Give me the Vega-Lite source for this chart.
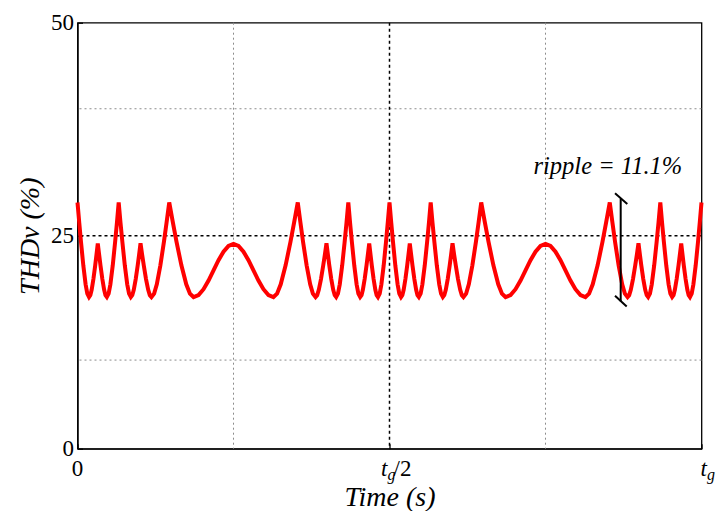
{
  "$schema": "https://vega.github.io/schema/vega-lite/v6.json",
  "width": 624,
  "height": 426,
  "autosize": "none",
  "padding": {"left": 77.5, "top": 22.7, "right": 15.5, "bottom": 62.3},
  "background": "white",
  "config": {
    "view": {"stroke": "black", "strokeWidth": 1.3},
    "font": "Liberation Serif",
    "text": {"font": "Liberation Serif", "color": "black"}
  },
  "datasets": {
    "curve": [
      {"t":0,"v":28.9},{"t":0.0028,"v":26.53},{"t":0.0056,"v":24.27},{"t":0.0093,"v":21.52},{"t":0.013,"v":19.29},{"t":0.0157,"v":18.2},{"t":0.0185,"v":17.8},
      {"t":0.0206,"v":18.02},{"t":0.0227,"v":18.65},{"t":0.0255,"v":19.91},{"t":0.0283,"v":21.47},{"t":0.0304,"v":22.76},{"t":0.0325,"v":24.1},
      {"t":0.0347,"v":22.76},{"t":0.0369,"v":21.47},{"t":0.0398,"v":19.91},{"t":0.0427,"v":18.65},{"t":0.0448,"v":18.02},{"t":0.047,"v":17.8},
      {"t":0.0499,"v":18.2},{"t":0.0527,"v":19.29},{"t":0.0565,"v":21.52},{"t":0.0603,"v":24.27},{"t":0.0632,"v":26.53},{"t":0.066,"v":28.9},
      {"t":0.0689,"v":26.53},{"t":0.0719,"v":24.27},{"t":0.0758,"v":21.52},{"t":0.0797,"v":19.29},{"t":0.0826,"v":18.2},{"t":0.0855,"v":17.8},
      {"t":0.0878,"v":18.02},{"t":0.0902,"v":18.65},{"t":0.0933,"v":19.91},{"t":0.0964,"v":21.47},{"t":0.0987,"v":22.76},{"t":0.101,"v":24.1},
      {"t":0.1036,"v":22.76},{"t":0.1063,"v":21.47},{"t":0.1098,"v":19.91},{"t":0.1133,"v":18.65},{"t":0.1159,"v":18.02},{"t":0.1185,"v":17.8},
      {"t":0.1228,"v":18.2},{"t":0.1271,"v":19.29},{"t":0.1328,"v":21.52},{"t":0.1385,"v":24.27},{"t":0.1427,"v":26.53},{"t":0.147,"v":28.9},
      {"t":0.1529,"v":26.53},{"t":0.1587,"v":24.27},{"t":0.1665,"v":21.52},{"t":0.1743,"v":19.29},{"t":0.1802,"v":18.2},{"t":0.186,"v":17.8},
      {"t":0.194,"v":18.04},{"t":0.202,"v":18.72},{"t":0.21,"v":19.73},{"t":0.218,"v":20.93},{"t":0.226,"v":22.12},{"t":0.234,"v":23.13},{"t":0.242,"v":23.81},{"t":0.25,"v":24.05},
      {"t":0.258,"v":23.81},{"t":0.266,"v":23.13},{"t":0.274,"v":22.12},{"t":0.282,"v":20.93},{"t":0.29,"v":19.73},{"t":0.298,"v":18.72},{"t":0.306,"v":18.04},{"t":0.314,"v":17.8},
      {"t":0.3198,"v":18.2},{"t":0.3257,"v":19.29},{"t":0.3335,"v":21.52},{"t":0.3413,"v":24.27},{"t":0.3471,"v":26.53},{"t":0.353,"v":28.9},
      {"t":0.3573,"v":26.53},{"t":0.3615,"v":24.27},{"t":0.3672,"v":21.52},{"t":0.3729,"v":19.29},{"t":0.3772,"v":18.2},{"t":0.3815,"v":17.8},
      {"t":0.3841,"v":18.02},{"t":0.3867,"v":18.65},{"t":0.3902,"v":19.91},{"t":0.3937,"v":21.47},{"t":0.3964,"v":22.76},{"t":0.399,"v":24.1},
      {"t":0.4013,"v":22.76},{"t":0.4036,"v":21.47},{"t":0.4067,"v":19.91},{"t":0.4098,"v":18.65},{"t":0.4122,"v":18.02},{"t":0.4145,"v":17.8},
      {"t":0.4174,"v":18.2},{"t":0.4203,"v":19.29},{"t":0.4242,"v":21.52},{"t":0.4281,"v":24.27},{"t":0.4311,"v":26.53},{"t":0.434,"v":28.9},
      {"t":0.4368,"v":26.53},{"t":0.4397,"v":24.27},{"t":0.4435,"v":21.52},{"t":0.4473,"v":19.29},{"t":0.4501,"v":18.2},{"t":0.453,"v":17.8},
      {"t":0.4552,"v":18.02},{"t":0.4573,"v":18.65},{"t":0.4602,"v":19.91},{"t":0.4631,"v":21.47},{"t":0.4653,"v":22.76},{"t":0.4675,"v":24.1},
      {"t":0.4696,"v":22.76},{"t":0.4717,"v":21.47},{"t":0.4745,"v":19.91},{"t":0.4773,"v":18.65},{"t":0.4794,"v":18.02},{"t":0.4815,"v":17.8},
      {"t":0.4843,"v":18.2},{"t":0.487,"v":19.29},{"t":0.4907,"v":21.52},{"t":0.4944,"v":24.27},{"t":0.4972,"v":26.53},{"t":0.5,"v":28.9},
      {"t":0.5028,"v":26.53},{"t":0.5056,"v":24.27},{"t":0.5093,"v":21.52},{"t":0.513,"v":19.29},{"t":0.5157,"v":18.2},{"t":0.5185,"v":17.8},
      {"t":0.5206,"v":18.02},{"t":0.5227,"v":18.65},{"t":0.5255,"v":19.91},{"t":0.5283,"v":21.47},{"t":0.5304,"v":22.76},{"t":0.5325,"v":24.1},
      {"t":0.5347,"v":22.76},{"t":0.5369,"v":21.47},{"t":0.5398,"v":19.91},{"t":0.5427,"v":18.65},{"t":0.5448,"v":18.02},{"t":0.547,"v":17.8},
      {"t":0.5499,"v":18.2},{"t":0.5527,"v":19.29},{"t":0.5565,"v":21.52},{"t":0.5603,"v":24.27},{"t":0.5632,"v":26.53},{"t":0.566,"v":28.9},
      {"t":0.5689,"v":26.53},{"t":0.5719,"v":24.27},{"t":0.5758,"v":21.52},{"t":0.5797,"v":19.29},{"t":0.5826,"v":18.2},{"t":0.5855,"v":17.8},
      {"t":0.5878,"v":18.02},{"t":0.5902,"v":18.65},{"t":0.5933,"v":19.91},{"t":0.5964,"v":21.47},{"t":0.5987,"v":22.76},{"t":0.601,"v":24.1},
      {"t":0.6036,"v":22.76},{"t":0.6063,"v":21.47},{"t":0.6098,"v":19.91},{"t":0.6133,"v":18.65},{"t":0.6159,"v":18.02},{"t":0.6185,"v":17.8},
      {"t":0.6228,"v":18.2},{"t":0.6271,"v":19.29},{"t":0.6328,"v":21.52},{"t":0.6385,"v":24.27},{"t":0.6427,"v":26.53},{"t":0.647,"v":28.9},
      {"t":0.6529,"v":26.53},{"t":0.6587,"v":24.27},{"t":0.6665,"v":21.52},{"t":0.6743,"v":19.29},{"t":0.6802,"v":18.2},{"t":0.686,"v":17.8},
      {"t":0.694,"v":18.04},{"t":0.702,"v":18.72},{"t":0.71,"v":19.73},{"t":0.718,"v":20.93},{"t":0.726,"v":22.12},{"t":0.734,"v":23.13},{"t":0.742,"v":23.81},{"t":0.75,"v":24.05},
      {"t":0.758,"v":23.81},{"t":0.766,"v":23.13},{"t":0.774,"v":22.12},{"t":0.782,"v":20.93},{"t":0.79,"v":19.73},{"t":0.798,"v":18.72},{"t":0.806,"v":18.04},{"t":0.814,"v":17.8},
      {"t":0.8198,"v":18.2},{"t":0.8257,"v":19.29},{"t":0.8335,"v":21.52},{"t":0.8413,"v":24.27},{"t":0.8471,"v":26.53},{"t":0.853,"v":28.9},
      {"t":0.8573,"v":26.53},{"t":0.8615,"v":24.27},{"t":0.8672,"v":21.52},{"t":0.8729,"v":19.29},{"t":0.8772,"v":18.2},{"t":0.8815,"v":17.8},
      {"t":0.8841,"v":18.02},{"t":0.8867,"v":18.65},{"t":0.8902,"v":19.91},{"t":0.8937,"v":21.47},{"t":0.8964,"v":22.76},{"t":0.899,"v":24.1},
      {"t":0.9013,"v":22.76},{"t":0.9036,"v":21.47},{"t":0.9067,"v":19.91},{"t":0.9098,"v":18.65},{"t":0.9122,"v":18.02},{"t":0.9145,"v":17.8},
      {"t":0.9174,"v":18.2},{"t":0.9203,"v":19.29},{"t":0.9242,"v":21.52},{"t":0.9281,"v":24.27},{"t":0.9311,"v":26.53},{"t":0.934,"v":28.9},
      {"t":0.9368,"v":26.53},{"t":0.9397,"v":24.27},{"t":0.9435,"v":21.52},{"t":0.9473,"v":19.29},{"t":0.9501,"v":18.2},{"t":0.953,"v":17.8},
      {"t":0.9552,"v":18.02},{"t":0.9573,"v":18.65},{"t":0.9602,"v":19.91},{"t":0.9631,"v":21.47},{"t":0.9653,"v":22.76},{"t":0.9675,"v":24.1},
      {"t":0.9696,"v":22.76},{"t":0.9717,"v":21.47},{"t":0.9745,"v":19.91},{"t":0.9773,"v":18.65},{"t":0.9794,"v":18.02},{"t":0.9815,"v":17.8},
      {"t":0.9843,"v":18.2},{"t":0.987,"v":19.29},{"t":0.9907,"v":21.52},{"t":0.9944,"v":24.27},{"t":0.9972,"v":26.53},{"t":1,"v":28.9}
    ]
  },
  "layer": [
    {
      "data": {"name": "curve"},
      "mark": {"type": "line", "color": "#ff0000", "strokeWidth": 0, "opacity": 0},
      "encoding": {
        "x": {
          "field": "t", "type": "quantitative",
          "scale": {"domain": [0, 1], "nice": false, "zero": false},
          "axis": {
            "values": [0, 0.5, 1], "labels": false, "tickSize": -5, "tickColor": "black", "tickWidth": 1.3,
            "domainColor": "black", "domainWidth": 1.3, "grid": false,
            "title": "Time (s)", "titleFont": "Liberation Serif", "titleFontStyle": "italic",
            "titleFontWeight": "normal", "titleFontSize": 28, "titleColor": "black", "titlePadding": 34
          }
        },
        "y": {
          "field": "v", "type": "quantitative",
          "scale": {"domain": [0, 50], "nice": false, "zero": false},
          "axis": {
            "values": [0, 25, 50], "tickSize": -5, "tickColor": "black", "tickWidth": 1.3, "labelPadding": 9,
            "labelFont": "Liberation Serif", "labelFontSize": 23, "labelColor": "black",
            "domainColor": "black", "domainWidth": 1.3, "grid": false,
            "title": "THDv (%)", "titleFont": "Liberation Serif", "titleFontStyle": "italic",
            "titleFontWeight": "normal", "titleFontSize": 28, "titleColor": "black", "titlePadding": 6
          }
        }
      }
    },
    {
      "data": {"values": [{"v": 10.4}, {"v": 39.9}]},
      "mark": {"type": "rule", "stroke": "#8c8c8c", "strokeWidth": 1, "strokeDash": [2, 3]},
      "encoding": {"y": {"field": "v", "type": "quantitative"}}
    },
    {
      "data": {"values": [{"t": 0.25}, {"t": 0.75}]},
      "mark": {"type": "rule", "stroke": "#8c8c8c", "strokeWidth": 1, "strokeDash": [2, 3]},
      "encoding": {"x": {"field": "t", "type": "quantitative"}}
    },
    {
      "data": {"values": [{"v": 25}]},
      "mark": {"type": "rule", "stroke": "black", "strokeWidth": 1.5, "strokeDash": [3, 3]},
      "encoding": {"y": {"field": "v", "type": "quantitative"}}
    },
    {
      "data": {"values": [{"t": 0.5}]},
      "mark": {"type": "rule", "stroke": "black", "strokeWidth": 1.5, "strokeDash": [3, 3]},
      "encoding": {"x": {"field": "t", "type": "quantitative"}}
    },
    {
      "data": {"name": "curve"},
      "mark": {"type": "line", "color": "#ff0000", "strokeWidth": 4, "strokeJoin": "miter"},
      "encoding": {
        "x": {"field": "t", "type": "quantitative"},
        "y": {"field": "v", "type": "quantitative"}
      }
    },
    {
      "data": {"values": [{"t": 0.8705, "v": 17.3, "v2": 29.34}]},
      "mark": {"type": "rule", "stroke": "black", "strokeWidth": 2},
      "encoding": {
        "x": {"field": "t", "type": "quantitative"},
        "y": {"field": "v", "type": "quantitative"},
        "y2": {"field": "v2"}
      }
    },
    {
      "data": {"values": [
        {"t": 0.8614, "t2": 0.8811, "v": 29.98, "v2": 28.72},
        {"t": 0.8614, "t2": 0.8801, "v": 17.94, "v2": 16.68}
      ]},
      "mark": {"type": "rule", "stroke": "black", "strokeWidth": 2},
      "encoding": {
        "x": {"field": "t", "type": "quantitative"},
        "x2": {"field": "t2"},
        "y": {"field": "v", "type": "quantitative"},
        "y2": {"field": "v2"}
      }
    },
    {
      "data": {"values": [{"t": 0.85, "v": 32.2, "txt": "ripple = 11.1%"}]},
      "mark": {"type": "text", "font": "Liberation Serif", "fontStyle": "italic", "fontSize": 24.5, "align": "center", "baseline": "alphabetic"},
      "encoding": {
        "x": {"field": "t", "type": "quantitative"},
        "y": {"field": "v", "type": "quantitative"},
        "text": {"field": "txt"}
      }
    },
    {
      "data": {"values": [{"t": 0, "v": 0, "txt": "0"}]},
      "mark": {"type": "text", "fontSize": 23, "align": "center", "baseline": "alphabetic", "dy": 27},
      "encoding": {
        "x": {"field": "t", "type": "quantitative"},
        "y": {"field": "v", "type": "quantitative"},
        "text": {"field": "txt"}
      }
    },
    {
      "data": {"values": [{"t": 0.5, "v": 0, "txt": "t"}]},
      "mark": {"type": "text", "fontSize": 23, "fontStyle": "italic", "align": "right", "baseline": "alphabetic", "dy": 27, "dx": -2},
      "encoding": {
        "x": {"field": "t", "type": "quantitative"},
        "y": {"field": "v", "type": "quantitative"},
        "text": {"field": "txt"}
      }
    },
    {
      "data": {"values": [{"t": 0.5, "v": 0, "txt": "g"}]},
      "mark": {"type": "text", "fontSize": 16, "fontStyle": "italic", "align": "left", "baseline": "alphabetic", "dy": 31, "dx": -2},
      "encoding": {
        "x": {"field": "t", "type": "quantitative"},
        "y": {"field": "v", "type": "quantitative"},
        "text": {"field": "txt"}
      }
    },
    {
      "data": {"values": [{"t": 0.5, "v": 0, "txt": "/2"}]},
      "mark": {"type": "text", "fontSize": 23, "align": "left", "baseline": "alphabetic", "dy": 27, "dx": 4},
      "encoding": {
        "x": {"field": "t", "type": "quantitative"},
        "y": {"field": "v", "type": "quantitative"},
        "text": {"field": "txt"}
      }
    },
    {
      "data": {"values": [{"t": 1, "v": 0, "txt": "t"}]},
      "mark": {"type": "text", "fontSize": 23, "fontStyle": "italic", "align": "left", "baseline": "alphabetic", "dy": 27, "dx": -1},
      "encoding": {
        "x": {"field": "t", "type": "quantitative"},
        "y": {"field": "v", "type": "quantitative"},
        "text": {"field": "txt"}
      }
    },
    {
      "data": {"values": [{"t": 1, "v": 0, "txt": "g"}]},
      "mark": {"type": "text", "fontSize": 16, "fontStyle": "italic", "align": "left", "baseline": "alphabetic", "dy": 31, "dx": 5.5},
      "encoding": {
        "x": {"field": "t", "type": "quantitative"},
        "y": {"field": "v", "type": "quantitative"},
        "text": {"field": "txt"}
      }
    }
  ]
}
